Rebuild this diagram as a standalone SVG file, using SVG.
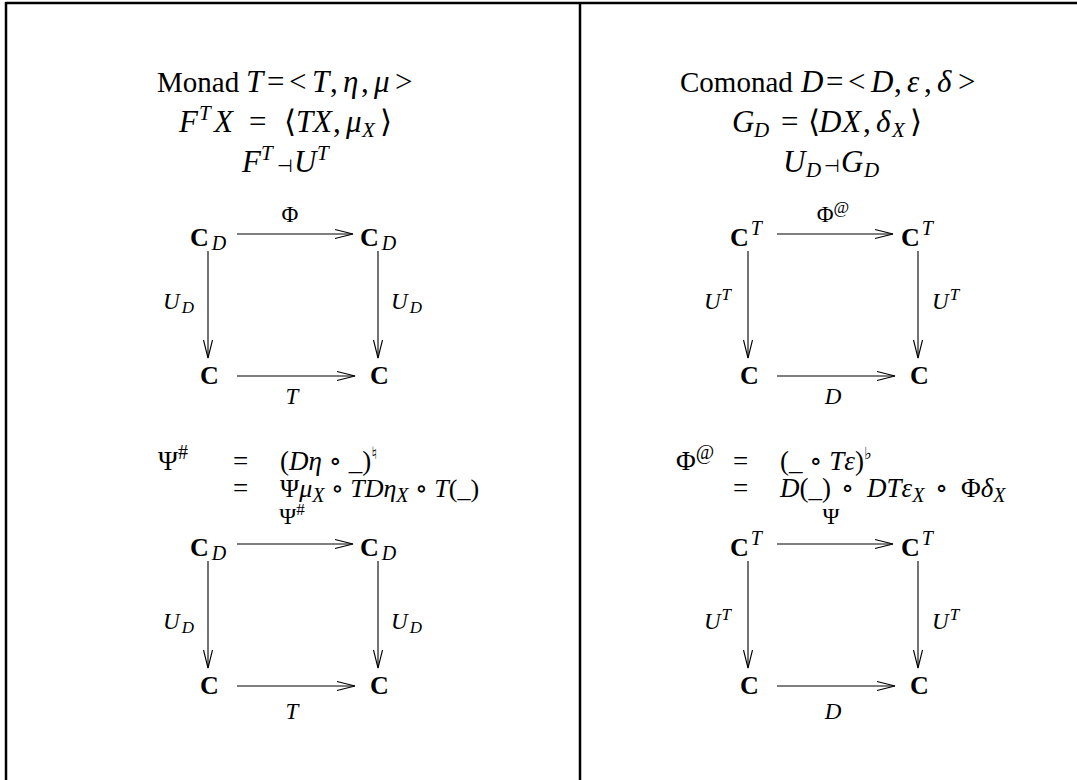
<svg xmlns="http://www.w3.org/2000/svg" width="1077" height="780" viewBox="0 0 1077 780">
<defs>
<marker id="ah" markerUnits="userSpaceOnUse" markerWidth="22" markerHeight="12" refX="18" refY="5" orient="auto" overflow="visible">
<path d="M0,0.5 L18,5 L0,9.5" fill="none" stroke="#000" stroke-width="1.1"/>
</marker>
<style>
text{font-family:"Liberation Serif","DejaVu Serif",serif;font-size:29px;fill:#000}
.m{font-size:31px}
.eq{font-size:27px}
.eq2{font-size:26px}
.i{font-style:italic}
.b{font-weight:bold;font-size:26px}
.s{font-size:21px}
.es{font-size:20px}
.n{font-weight:normal}
.sym{font-family:"DejaVu Sans",sans-serif;font-style:normal}
.ta{font-size:18px}
.mus{font-size:17px}
.lab{font-size:23px}
.ls{font-size:17px}
.ar{stroke:#000;stroke-width:1.1;fill:none;marker-end:url(#ah)}
.frame{stroke:#000;stroke-width:2.5;fill:none}
</style>
</defs>
<g id="frame">
<line class="frame" x1="5.5" y1="3" x2="1077" y2="3"/>
<line class="frame" x1="6" y1="2" x2="6" y2="780"/>
<line class="frame" x1="580" y1="2" x2="580" y2="780"/>
</g>
<g id="monad-def">
<text y="92"><tspan x="157">Monad</tspan><tspan class="i m" x="246">T</tspan><tspan class="m" x="267">=</tspan><tspan class="m" x="289">&lt;</tspan><tspan class="i m" x="312">T</tspan><tspan class="m" x="330">,</tspan><tspan class="i m" x="343">η</tspan><tspan class="m" x="361">,</tspan><tspan class="i m" x="374">μ</tspan><tspan class="m" x="395">&gt;</tspan></text>
<text y="132" class="m"><tspan class="i" x="179">F</tspan><tspan class="i s" x="199" y="120">T</tspan><tspan class="i" x="214" y="132">X</tspan><tspan x="249">=</tspan><tspan class="sym" x="284">⟨</tspan><tspan class="i" x="296">T</tspan><tspan class="i" x="313">X</tspan><tspan x="333">,</tspan><tspan class="i" x="346">μ</tspan><tspan class="i s" x="362" y="137">X</tspan><tspan class="sym" x="380" y="132">⟩</tspan></text>
<text y="172" class="m"><tspan class="i" x="242">F</tspan><tspan class="i s" x="261" y="160">T</tspan><tspan class="sym ta" x="277" y="172">⊣</tspan><tspan class="i" x="294">U</tspan><tspan class="i s" x="317" y="160">T</tspan></text>
</g>
<g id="comonad-def">
<text y="92"><tspan x="680">Comonad</tspan><tspan class="i m" x="801">D</tspan><tspan class="m" x="826">=</tspan><tspan class="m" x="848">&lt;</tspan><tspan class="i m" x="871">D</tspan><tspan class="m" x="894">,</tspan><tspan class="i m" x="907">ε</tspan><tspan class="m" x="924">,</tspan><tspan class="i m" x="937">δ</tspan><tspan class="m" x="958">&gt;</tspan></text>
<text y="132" class="m"><tspan class="i" x="732">G</tspan><tspan class="i s" x="754" y="137">D</tspan><tspan x="781" y="132">=</tspan><tspan class="sym" x="808">⟨</tspan><tspan class="i" x="819">D</tspan><tspan class="i" x="842">X</tspan><tspan x="863">,</tspan><tspan class="i" x="876">δ</tspan><tspan class="i s" x="892" y="137">X</tspan><tspan class="sym" x="910" y="132">⟩</tspan></text>
<text y="172" class="m"><tspan class="i" x="783">U</tspan><tspan class="i s" x="806" y="177">D</tspan><tspan class="sym ta" x="824" y="172">⊣</tspan><tspan class="i" x="841">G</tspan><tspan class="i s" x="864" y="177">D</tspan></text>
</g>
<g id="psi-eq">
<text class="eq" x="158" y="470">Ψ<tspan class="es" dy="-11">#</tspan></text>
<text class="eq" x="233" y="470">=</text>
<text class="eq" x="280" y="470">(<tspan class="i">Dη</tspan> ∘ _)<tspan class="sym mus" dy="-11">♮</tspan></text>
<text class="eq" x="233" y="497">=</text>
<text class="eq2" x="280" y="497">Ψ<tspan class="i">μ</tspan><tspan class="i es" dy="5">X</tspan><tspan dy="-5"> ∘ </tspan><tspan class="i">TDη</tspan><tspan class="i es" dy="5">X</tspan><tspan dy="-5"> ∘ </tspan><tspan class="i">T</tspan>(_)</text>
</g>
<g id="phi-eq">
<text class="eq" x="676" y="470">Φ<tspan class="es" dy="-11">@</tspan></text>
<text class="eq" x="733" y="470">=</text>
<text class="eq" x="780" y="470">(_ ∘ <tspan class="i">Tε</tspan>)<tspan class="sym mus" dy="-11">♭</tspan></text>
<text class="eq" x="733" y="497">=</text>
<text class="eq" y="497"><tspan class="i" x="780">D</tspan>(_)<tspan x="841">∘</tspan><tspan class="i" x="867">DTε</tspan><tspan class="i es" dy="5">X</tspan><tspan x="935" dy="-5">∘</tspan><tspan x="961">Φ</tspan><tspan class="i">δ</tspan><tspan class="i es" dy="5">X</tspan></text>
</g>
<g id="L1-CD-tl"><text x="190" y="246" class="b">C<tspan class="i es n" dx="3" dy="4">D</tspan></text></g>
<g id="L1-CD-tr"><text x="360" y="246" class="b">C<tspan class="i es n" dx="3" dy="4">D</tspan></text></g>
<g id="L1-C-bl"><text x="200" y="384" class="b">C</text></g>
<g id="L1-C-br"><text x="370" y="384" class="b">C</text></g>
<g id="L2-CD-tl"><text x="190" y="556" class="b">C<tspan class="i es n" dx="3" dy="4">D</tspan></text></g>
<g id="L2-CD-tr"><text x="360" y="556" class="b">C<tspan class="i es n" dx="3" dy="4">D</tspan></text></g>
<g id="L2-C-bl"><text x="200" y="694" class="b">C</text></g>
<g id="L2-C-br"><text x="370" y="694" class="b">C</text></g>
<g id="R1-CT-tl"><text x="730" y="246" class="b">C<tspan class="i es n" dx="2" dy="-11">T</tspan></text></g>
<g id="R1-CT-tr"><text x="901" y="246" class="b">C<tspan class="i es n" dx="2" dy="-11">T</tspan></text></g>
<g id="R1-C-bl"><text x="740" y="384" class="b">C</text></g>
<g id="R1-C-br"><text x="910" y="384" class="b">C</text></g>
<g id="R2-CT-tl"><text x="730" y="556" class="b">C<tspan class="i es n" dx="2" dy="-11">T</tspan></text></g>
<g id="R2-CT-tr"><text x="901" y="556" class="b">C<tspan class="i es n" dx="2" dy="-11">T</tspan></text></g>
<g id="R2-C-bl"><text x="740" y="694" class="b">C</text></g>
<g id="R2-C-br"><text x="910" y="694" class="b">C</text></g>
<g id="connectors">
<line class="ar" x1="237" y1="234" x2="353" y2="234"/>
<line class="ar" x1="208" y1="251" x2="208" y2="358"/>
<line class="ar" x1="378" y1="251" x2="378" y2="358"/>
<line class="ar" x1="237" y1="376" x2="355" y2="376"/>
<line class="ar" x1="237" y1="544" x2="353" y2="544"/>
<line class="ar" x1="208" y1="561" x2="208" y2="668"/>
<line class="ar" x1="378" y1="561" x2="378" y2="668"/>
<line class="ar" x1="237" y1="686" x2="355" y2="686"/>
<line class="ar" x1="777" y1="234" x2="893" y2="234"/>
<line class="ar" x1="748" y1="251" x2="748" y2="358"/>
<line class="ar" x1="918" y1="251" x2="918" y2="358"/>
<line class="ar" x1="777" y1="376" x2="895" y2="376"/>
<line class="ar" x1="777" y1="544" x2="893" y2="544"/>
<line class="ar" x1="748" y1="561" x2="748" y2="668"/>
<line class="ar" x1="918" y1="561" x2="918" y2="668"/>
<line class="ar" x1="777" y1="686" x2="895" y2="686"/>
</g>
<g id="labels">
<text class="lab" x="290" y="222" text-anchor="middle">Φ</text>
<text class="lab i" x="194" y="309" text-anchor="end">U<tspan class="ls" dx="2" dy="4">D</tspan></text>
<text class="lab i" x="391" y="309">U<tspan class="ls" dx="2" dy="4">D</tspan></text>
<text class="lab i" x="292" y="404" text-anchor="middle">T</text>
<text class="lab" x="292" y="524" text-anchor="middle">Ψ<tspan class="ls" dy="-9">#</tspan></text>
<text class="lab i" x="194" y="629" text-anchor="end">U<tspan class="ls" dx="2" dy="4">D</tspan></text>
<text class="lab i" x="391" y="629">U<tspan class="ls" dx="2" dy="4">D</tspan></text>
<text class="lab i" x="292" y="719" text-anchor="middle">T</text>
<text class="lab" x="833" y="222" text-anchor="middle">Φ<tspan class="ls" dy="-9">@</tspan></text>
<text class="lab i" x="731" y="309" text-anchor="end">U<tspan class="ls" dx="1" dy="-9">T</tspan></text>
<text class="lab i" x="932" y="309">U<tspan class="ls" dx="1" dy="-9">T</tspan></text>
<text class="lab i" x="833" y="404" text-anchor="middle">D</text>
<text class="lab" x="831" y="524" text-anchor="middle">Ψ</text>
<text class="lab i" x="731" y="629" text-anchor="end">U<tspan class="ls" dx="1" dy="-9">T</tspan></text>
<text class="lab i" x="932" y="629">U<tspan class="ls" dx="1" dy="-9">T</tspan></text>
<text class="lab i" x="833" y="719" text-anchor="middle">D</text>
</g>
</svg>
